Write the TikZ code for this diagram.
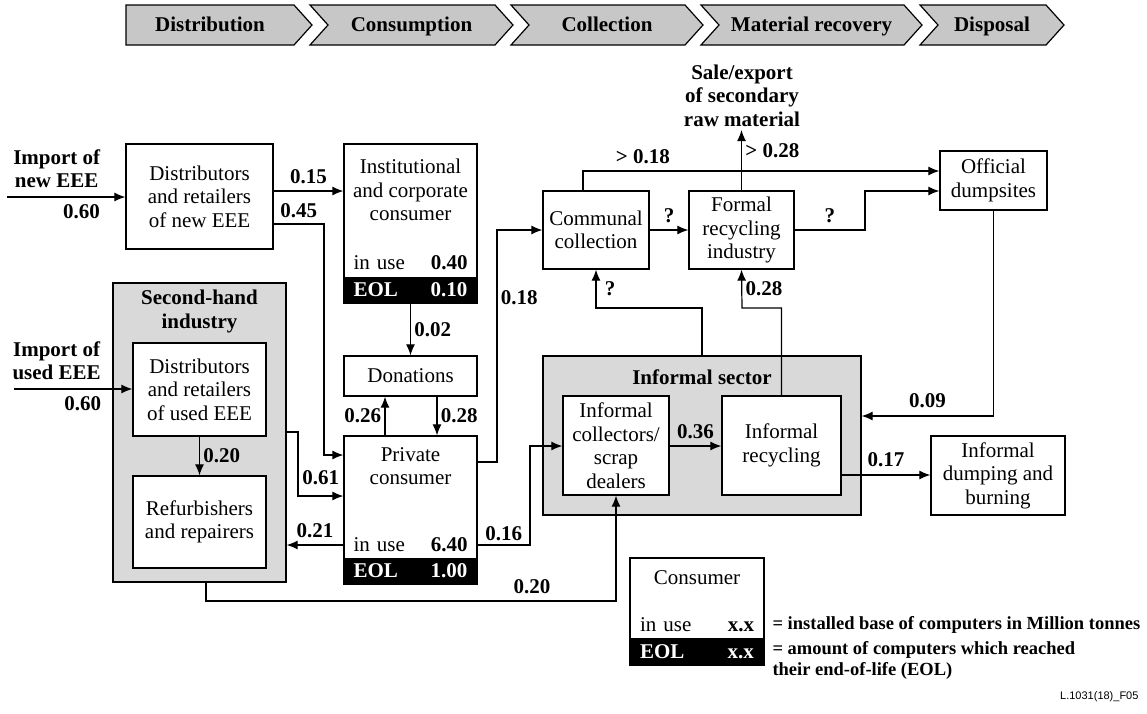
\documentclass[tikz,border=0pt]{standalone}
\usepackage{fontspec}
\setmainfont{Liberation Serif}
\newfontfamily\figsans{Liberation Sans}
\usetikzlibrary{arrows.meta}

\newcommand{\dsize}{\fontsize{21}{23.5}\selectfont}
\newcommand{\spread}{\hskip 0pt plus 1filll\relax}

\tikzset{
  box/.style={draw, line width=1.3pt, fill=white, align=center, inner sep=0pt},
  graybox/.style={box, fill=black!15},
  lbl/.style={font=\dsize\bfseries},
  legfont/.style={font=\fontsize{18.5}{21}\selectfont\bfseries},
  inuse/.style={text width=114pt, inner sep=0pt},
  eolbar/.style={fill=black, text=white, font=\dsize\bfseries, minimum width=133pt,
    minimum height=26pt, text width=114pt, inner sep=0pt},
  flow/.style={line width=1.2pt, ->},
}

\begin{document}
\begin{tikzpicture}[x=1pt, y=-1pt, font=\dsize, >={Latex[length=11pt,width=9pt]}]
\useasboundingbox (0,0) rectangle (1147,713);

% life cycle phases
\foreach \xl/\xr/\txt [count=\i] in {126/312/Distribution, 310/513/Consumption,
    511/703/Collection, 701/922/Material recovery, 920/1064/Disposal} {
  \pgfmathsetmacro{\dent}{\i==1 ? 0 : 18}
  \draw[line width=1.2pt, fill=black!22] (\xl,5) -- (\xr-18,5) -- (\xr,25)
    -- (\xr-18,45) -- (\xl,45) -- (\xl+\dent,25) -- cycle;
  \node[lbl, text height=15pt, text depth=5pt, inner sep=0pt] at ({(\xl+\dent+\xr-18)/2},26) (ph\i) {\txt};
}

% distribution
\coordinate (impnew) at (7,197);
\coordinate (impused) at (14,389);
\node[box, minimum width=147pt, minimum height=105pt] at (199.5,196.5) (distnew) {Distributors\\and retailers\\of new EEE};

% second-hand industry
\node[graybox, minimum width=173pt, minimum height=299pt] at (199.5,432.5) (shi) {};
\node[lbl, align=center] at (199.5,311.5) (shititle) {Second-hand\\industry};
\node[box, minimum width=133pt, minimum height=93pt] at (199.5,389.5) (distused) {Distributors\\and retailers\\of used EEE};
\node[box, minimum width=133pt, minimum height=92pt] at (199.5,522) (refurb) {Refurbishers\\and repairers};

% consumers
\node[box, minimum width=133pt, minimum height=159pt] at (410.5,223.5) (inst) {};
\node[align=center] at (410.5,190) (insttitle) {Institutional\\and corporate\\consumer};
\node[inuse] at (410.5,263) (instuse) {in use\spread\textbf{0.40}};
\node[eolbar] at (410.5,290) (insteol) {EOL\spread 0.10};
\node[box, minimum width=133pt, minimum height=40pt] at (410.5,376) (donations) {Donations};
\node[box, minimum width=133pt, minimum height=148pt] at (410.5,510) (private) {};
\node[align=center] at (410.5,466) (privtitle) {Private\\consumer};
\node[inuse] at (410.5,545) (privuse) {in use\spread\textbf{6.40}};
\node[eolbar] at (410.5,571) (priveol) {EOL\spread 1.00};

% collection, recovery, disposal
\node[box, minimum width=106pt, minimum height=78pt] at (596,230) (communal) {Communal\\collection};
\node[box, minimum width=105pt, minimum height=78pt] at (741.5,230) (formal) {Formal\\recycling\\industry};
\node[box, minimum width=107pt, minimum height=59pt] at (993.5,180.5) (official) {Official\\dumpsites};
\node[lbl, align=center, anchor=south] at (742,130) (sale) {Sale/export\\of secondary\\raw material};

% informal sector
\node[graybox, minimum width=318pt, minimum height=159pt] at (702,435.5) (infsec) {};
\node[lbl] at (702,377) (infsectitle) {Informal sector};
\node[box, minimum width=106pt, minimum height=99pt] at (616,445.5) (infcoll) {Informal\\collectors/\\scrap\\dealers};
\node[box, minimum width=119pt, minimum height=99pt] at (781.5,445.5) (infrec) {Informal\\recycling};
\node[box, minimum width=134pt, minimum height=79pt] at (998,475.5) (infdump) {Informal\\dumping and\\burning};

% legend
\node[box, minimum width=134pt, minimum height=107pt] at (697,611.5) (legend) {};
\node at (697,578) (legtitle) {Consumer};
\node[inuse] at (697,625) (leguse) {in use\spread\textbf{x.x}};
\node[eolbar, minimum width=134pt, minimum height=27pt] at (697,651.5) (legeol) {EOL\spread x.x};
\node[legfont, anchor=west] at (769,625) (legtxta) {= installed base of computers in Million tonnes};
\node[legfont, anchor=north west, align=left] at (769,638) (legtxtb) {= amount of computers which reached\\their end-of-life (EOL)};
\node[font=\figsans\fontsize{11}{13}\selectfont, anchor=east] at (1142,697) (figid) {L.1031(18)\_F05};

% flows
\draw[flow] (impnew) -- node[lbl, pos=0.42, above=5pt, align=center] (impnewtxt) {Import of\\new EEE}
  node[lbl, pos=0.63, below=4pt] (q060a) {0.60} (impnew -| distnew.west);
\draw[flow] (impused) -- node[lbl, pos=0.36, above=5pt, align=center] (impusedtxt) {Import of\\used EEE}
  node[lbl, pos=0.58, below=4pt] (q060b) {0.60} (impused -| distused.west);
\draw[flow] (distnew.east |- 0,191) -- node[lbl, above=3pt] (q015) {0.15} (inst.west |- 0,191);
\draw[flow] (distnew.east |- 0,224) -| node[lbl, pos=0.25, above=2pt] (q045) {0.45} (324,455) -- (private.west |- 0,455);
\draw[flow] (inst.south) -- node[lbl, right] (q002) {0.02} (donations.north);
\draw[flow] (private.north -| 385,0) -- node[lbl, left] (q026) {0.26} (donations.south -| 385,0);
\draw[flow] (donations.south -| 437,0) -- node[lbl, right] (q028a) {0.28} (private.north -| 437,0);
\draw[flow] (distused) -- node[lbl, right] (q020a) {0.20} (refurb);
\draw[flow] (shi.east |- 0,432) -| (298,496) -- node[lbl, above=7pt] (q061) {0.61} (private.west |- 0,496);
\draw[flow] (private.west |- 0,545) -- node[lbl, above=3pt] (q021) {0.21} (shi.east |- 0,545);
\draw[flow] (private.east |- 0,462) -| node[lbl, pos=0.855, right] (q018a) {0.18} (497,230) -- (communal.west);
\draw[flow] (private.east |- 0,545) -| node[lbl, pos=0.25, above=0pt] (q016) {0.16} (530,446) -- (infcoll.west |- 0,446);
\draw[flow] (shi.south -| 206,0) |- node[lbl, pos=0.8975, above=3pt] (q020b) {0.20} (616,601) -- (infcoll.south);
\draw[flow] (communal) -- node[lbl, above=3pt] (qcf) {?} (formal);
\draw[flow] (communal.north -| 583,0) |- node[lbl, pos=0.584, above=3pt] (q018b) {> 0.18} (official.west |- 0,171);
\draw[flow] (formal.north) -- node[lbl, pos=0.65, right] (q028b) {> 0.28} (formal.north |- sale.south);
\draw[flow] (formal.east) -| node[lbl, pos=0.25, above=3pt] (qfo) {?} (865,191) -- (official.west |- 0,191);
\draw[flow] (official.south) |- node[lbl, pos=0.75, above=4pt] (q009) {0.09} (infsec.east |- 0,416);
\draw[flow] (infcoll.east |- 0,446) -- node[lbl, above=3pt] (q036) {0.36} (infrec.west |- 0,446);
\draw[flow] (infrec.east |- 0,475) -- node[lbl, above=4pt] (q017) {0.17} (infdump.west |- 0,475);
\draw[flow] (infsec.north) |- (596,308) -- node[lbl, right=5pt] (qic) {?} (communal.south);
\draw[flow] (infrec.north) |- (742,308) -- node[lbl, right] (q028c) {0.28} (formal.south);
\end{tikzpicture}
\end{document}
